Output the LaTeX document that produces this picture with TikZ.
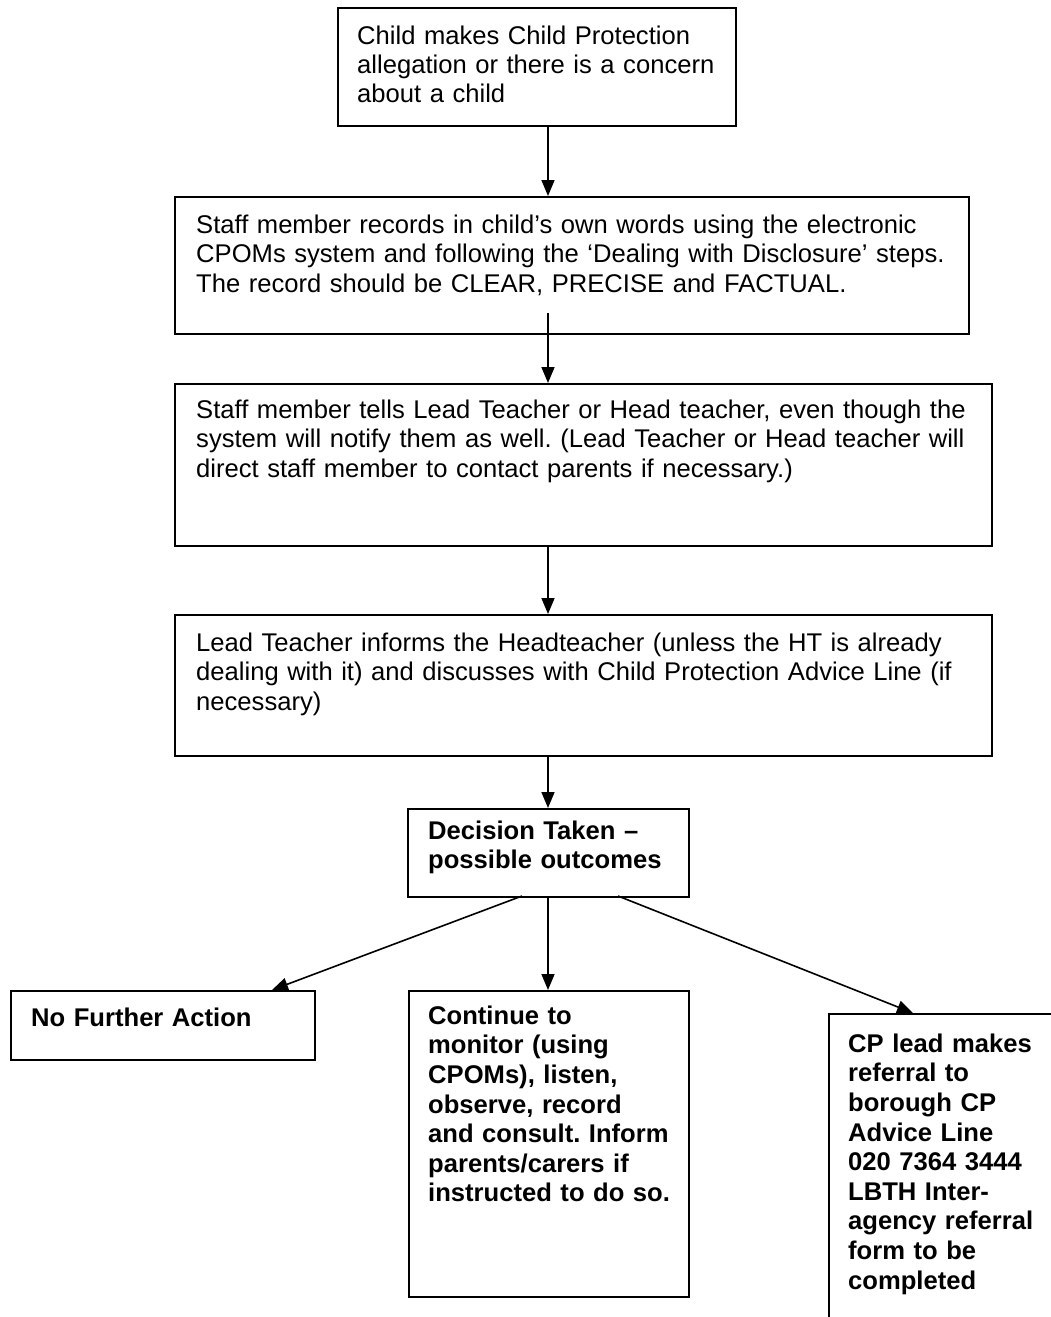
\documentclass[tikz,border=0pt]{standalone}
\usepackage{fontspec}
\setmainfont{Liberation Sans}
\usetikzlibrary{arrows.meta}
\frenchspacing
\begin{document}
\begin{tikzpicture}[x=1pt,y=-1pt,
  box/.style={draw, line width=1.6pt, rectangle, inner sep=0pt, anchor=north west},
  txt/.style={anchor=north west, inner sep=0pt, align=left, font=\fontsize{25.6}{29.4}\selectfont},
  btxt/.style={anchor=north west, inner sep=0pt, align=left, font=\fontsize{25.6}{29.6}\selectfont\bfseries},
  arr/.style={line width=1.6pt, -{Triangle[width=13pt,length=16pt]}}]
\useasboundingbox (0,0) rectangle (1050,1317);

% boxes
\node[box, minimum width=398pt, minimum height=118pt] (b1) at (337,7) {};
\node[box, minimum width=794pt, minimum height=137pt] (b2) at (174,196) {};
\node[box, minimum width=817pt, minimum height=162pt] (b3) at (174,383) {};
\node[box, minimum width=817pt, minimum height=141pt] (b4) at (174,614) {};
\node[box, minimum width=281pt, minimum height=88pt] (dec) at (407,808) {};
\node[box, minimum width=304pt, minimum height=69pt] (nfa) at (10,990) {};
\node[box, minimum width=280pt, minimum height=306pt] (cont) at (408,990) {};
\node[box, minimum width=260pt, minimum height=330pt] (cp) at (828,1013) {};

% texts
\node[txt, text width=380pt] (t1) at (357,19) {\rule{0pt}{25pt}Child makes Child Protection\\allegation or there is a concern\\about a child};
\node[txt, text width=780pt] (t2) at (196,208) {\rule{0pt}{25pt}Staff member records in child’s own words using the electronic\\CPOMs system and following the ‘Dealing with Disclosure’ steps.\\The record should be CLEAR, PRECISE and FACTUAL.};
\node[txt, text width=800pt] (t3) at (196,393) {\rule{0pt}{25pt}Staff member tells Lead Teacher or Head teacher, even though the\\system will notify them as well. (Lead Teacher or Head teacher will\\direct staff member to contact parents if necessary.)};
\node[txt, text width=800pt] (t4) at (196,626) {\rule{0pt}{25pt}Lead Teacher informs the Headteacher (unless the HT is already\\dealing with it) and discusses with Child Protection Advice Line (if\\necessary)};
\node[btxt, text width=270pt] (td) at (428,814) {\rule{0pt}{25pt}Decision Taken –\\possible outcomes};
\node[btxt, text width=290pt] (tn) at (31,1001) {\rule{0pt}{25pt}No Further Action};
\node[btxt, text width=270pt] (tc) at (428,999) {\rule{0pt}{25pt}Continue to\\monitor (using\\CPOMs), listen,\\observe, record\\and consult. Inform\\parents/carers if\\instructed to do so.};
\node[btxt, text width=250pt] (tp) at (848,1027) {\rule{0pt}{25pt}CP lead makes\\referral to\\borough CP\\Advice Line\\020 7364 3444\\LBTH Inter-\\agency referral\\form to be\\completed};

% connectors
\coordinate (cx) at (548,0);
\coordinate (s2) at (548,313);
\coordinate (dl) at (522,896);
\coordinate (dr) at (618,896);
\coordinate (nl) at (272,990);
\coordinate (pr) at (913,1013);
\draw[arr] (b1.south -| cx) -- (b2.north -| cx);
\draw[arr] (s2) -- (b3.north -| cx);
\draw[arr] (b3.south -| cx) -- (b4.north -| cx);
\draw[arr] (b4.south -| cx) -- (dec.north -| cx);
\draw[arr] (dl) -- (nl);
\draw[arr] (dec.south -| cx) -- (cont.north -| cx);
\draw[arr] (dr) -- (pr);
\end{tikzpicture}
\end{document}
